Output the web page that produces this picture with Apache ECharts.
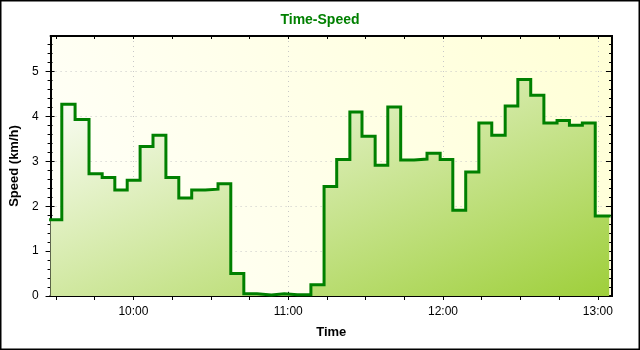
<!DOCTYPE html>
<html>
<head>
<meta charset="utf-8">
<script src="https://cdn.jsdelivr.net/npm/echarts@6/dist/echarts.min.js"></script>
<style>html,body{margin:0;padding:0;background:#fff}#c{width:640px;height:350px}</style>
</head>
<body>
<div id="c"></div>
<script>
// Segment start times (minutes since midnight); the last entry is the end of the record
const times = [567.9, 572.25, 577.4, 582.8, 587.9, 592.8, 597.6, 602.6, 607.6, 612.6,
  617.6, 622.6, 627.8, 632.8, 637.75, 642.8, 647.9, 653.5, 658.5, 663.6,
  668.8, 673.9, 678.8, 683.9, 688.6, 693.7, 698.6, 703.6, 708.8, 713.8,
  718.9, 723.8, 728.8, 733.9, 738.9, 744.1, 749.0, 754.0, 759.1, 764.2,
  769.0, 774.0, 779.0, 784.4];
// Speed held over each segment (km/h)
const speeds = [1.70, 4.27, 3.93, 2.72, 2.64, 2.36, 2.58, 3.33, 3.58, 2.64,
  2.18, 2.36, 2.38, 2.50, 0.50, 0.05, 0.02, 0.05, 0.03, 0.03,
  0.25, 2.44, 3.04, 4.10, 3.56, 2.91, 4.21, 3.03, 3.05, 3.18,
  3.04, 1.91, 2.76, 3.85, 3.58, 4.23, 4.82, 4.47, 3.85, 3.91,
  3.80, 3.85, 1.78];
const hourTicks = [600, 660, 720, 780];
const hourLabels = ['10:00', '11:00', '12:00', '13:00'];
const quarterTicks = [570, 585, 600, 615, 630, 645, 660, 675, 690, 705, 720, 735, 750, 765, 780];
const yMajor = [0, 1, 2, 3, 4, 5];
const yMinor = [0, 0.2, 0.4, 0.6, 0.8, 1, 1.2, 1.4, 1.6, 1.8, 2, 2.2, 2.4, 2.6, 2.8, 3, 3.2, 3.4, 3.6, 3.8,
  4, 4.2, 4.4, 4.6, 4.8, 5, 5.2, 5.4, 5.6];
const xMin = 567.9, xMax = 785.5, yMax = 5.79;
const titleText = 'Time-Speed', xName = 'Time', yName = 'Speed (km/h)';

const data = times.map((t, i) => [t, speeds[Math.min(i, speeds.length - 1)]]);
const FONT = '"Liberation Sans", Arial, sans-serif';
const black = '#000';

function xAx(extra) {
  return Object.assign({
    type: 'value', min: xMin, max: xMax, gridIndex: 0,
    axisLine: { show: true, onZero: false, lineStyle: { color: black, width: 2 } },
    axisLabel: { show: false }, splitLine: { show: false }
  }, extra);
}
function yAx(extra) {
  return Object.assign({
    type: 'value', min: 0, max: yMax, gridIndex: 0,
    axisLine: { show: true, onZero: false, lineStyle: { color: black, width: 2 } },
    axisLabel: { show: false }, splitLine: { show: false }
  }, extra);
}

const chart = echarts.init(document.getElementById('c'), null, { renderer: 'canvas' });
chart.setOption({
  animation: false,
  backgroundColor: '#fff',
  title: {
    text: titleText, left: 'center', top: 8,
    textStyle: { color: '#008000', fontSize: 14, fontWeight: 'bold', fontFamily: FONT }
  },
  graphic: [{
    type: 'rect', silent: true, z: 100,
    shape: { x: 0.75, y: 0.75, width: 638.5, height: 348.5 },
    style: { fill: 'none', stroke: '#000', lineWidth: 1.5 }
  }],
  grid: {
    left: 50, right: 28, top: 36, bottom: 54, show: true, borderWidth: 0,
    backgroundColor: {
      type: 'linear', x: 0, y: 1, x2: 1, y2: 0,
      colorStops: [{ offset: 0, color: '#FFFFFA' }, { offset: 1, color: '#FFFFD6' }]
    }
  },
  xAxis: [
    xAx({
      position: 'bottom', name: xName, nameLocation: 'middle', nameGap: 30,
      nameTextStyle: { color: black, fontSize: 13, fontWeight: 'bold', fontFamily: FONT },
      axisTick: { show: true, inside: false, length: 4, customValues: quarterTicks, lineStyle: { color: black, width: 1 } },
      axisLabel: { show: true, customValues: hourTicks, margin: 10, color: black, fontSize: 12, fontFamily: FONT,
        formatter: v => hourLabels[hourTicks.indexOf(v)] }
    }),
    xAx({
      position: 'bottom',
      axisTick: { show: true, inside: true, length: 4, customValues: hourTicks, lineStyle: { color: black, width: 1 } },
      splitLine: { show: true, lineStyle: { color: '#c8c8c8', type: [1, 4], width: 1 } }
    }),
    xAx({
      position: 'top',
      axisTick: { show: true, inside: true, length: 3, customValues: quarterTicks, lineStyle: { color: black, width: 1 } }
    })
  ],
  yAxis: [
    yAx({
      position: 'left', name: yName, nameLocation: 'middle', nameGap: 29,
      nameTextStyle: { color: black, fontSize: 13, fontWeight: 'bold', fontFamily: FONT },
      axisTick: { show: true, inside: false, length: 3, customValues: yMinor, lineStyle: { color: black, width: 1 } },
      axisLabel: { show: true, customValues: yMajor, margin: 12, color: black, fontSize: 12, fontFamily: FONT }
    }),
    yAx({
      position: 'left',
      axisTick: { show: true, inside: false, length: 5, customValues: yMajor, lineStyle: { color: black, width: 1 } },
      splitLine: { show: true, lineStyle: { color: '#c8c8c8', type: [1, 4], width: 1 } }
    }),
    yAx({
      position: 'left',
      axisTick: { show: true, inside: true, length: 4, customValues: yMajor, lineStyle: { color: black, width: 1 } }
    }),
    yAx({
      position: 'left',
      axisTick: { show: true, inside: true, length: 2, customValues: yMinor, lineStyle: { color: black, width: 1 } }
    }),
    yAx({
      position: 'right',
      axisTick: { show: true, inside: true, length: 3, customValues: yMinor, lineStyle: { color: black, width: 1 } }
    }),
    yAx({
      position: 'right',
      axisTick: { show: true, inside: true, length: 6, customValues: yMajor, lineStyle: { color: black, width: 1 } }
    })
  ],
  series: [{
    type: 'line', step: 'end', xAxisIndex: 0, yAxisIndex: 0,
    data: data, showSymbol: false, symbol: 'none',
    lineStyle: { color: '#008000', width: 3, join: 'miter', cap: 'square' },
    areaStyle: {
      opacity: 1,
      color: {
        type: 'linear', global: true, x: 50, y: 79, x2: 222, y2: 481,
        colorStops: [{ offset: 0, color: '#FFFFFF' }, { offset: 1, color: '#9ACD32' }]
      }
    },
    z: 5
  }]
});
</script>
</body>
</html>
